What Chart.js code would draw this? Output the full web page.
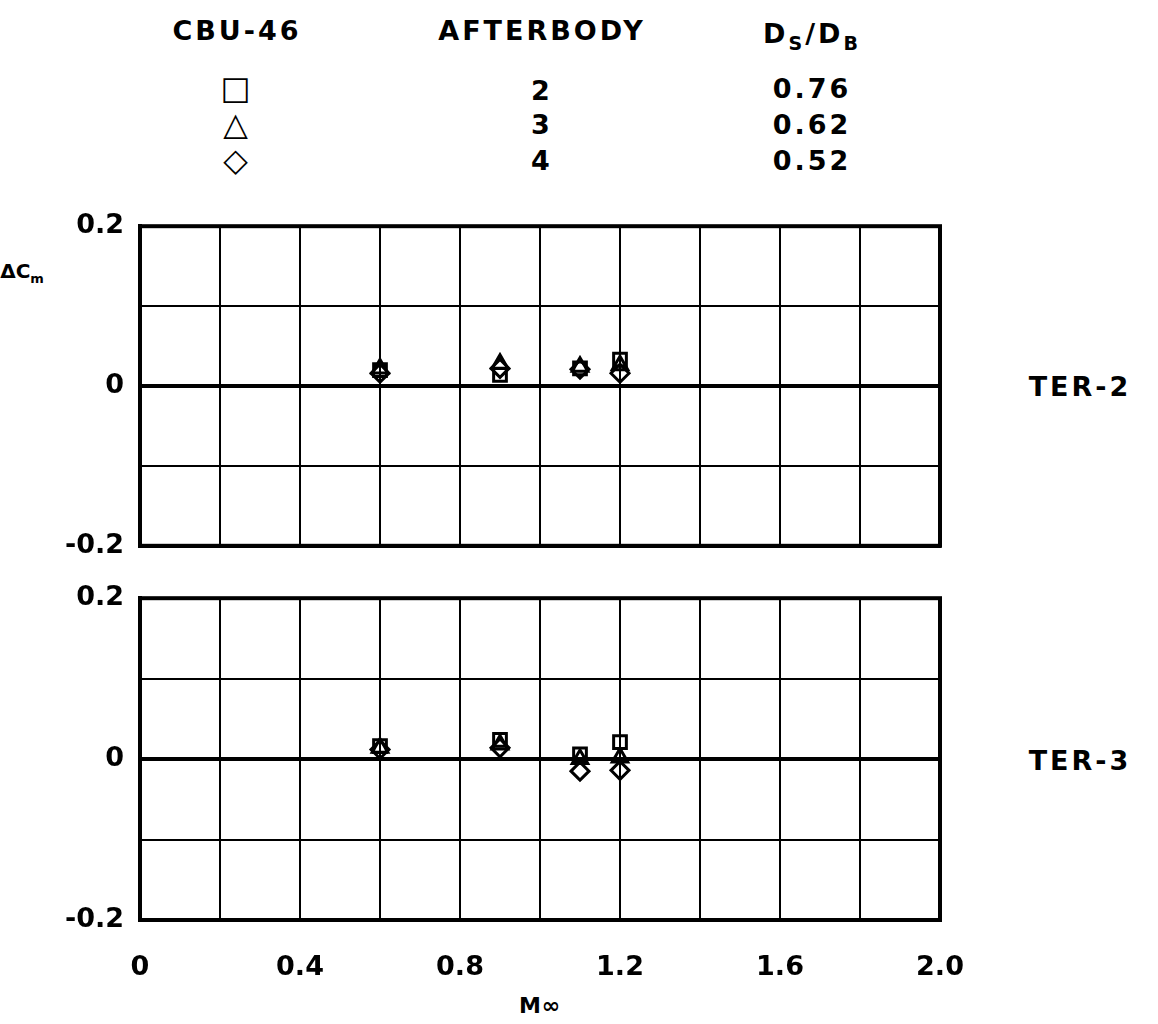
<!DOCTYPE html>
<html>
<head>
<meta charset="utf-8">
<script src="https://cdn.jsdelivr.net/npm/chart.js@4.4.1/dist/chart.umd.min.js"></script>
<style>
  body { margin: 0; background: #fff; width: 1158px; height: 1024px; position: relative; overflow: hidden;
         font-family: "DejaVu Sans", sans-serif; font-weight: bold; color: #000; }
  .t { position: absolute; font-size: 27px; letter-spacing: 3px; white-space: nowrap; transform: translate(-50%, -50%); }
  .box { position: absolute; left: 0; width: 1000px; }
</style>
</head>
<body>
<div class="t" style="left:237px;top:30px">CBU-46</div>
<div class="t" style="left:542px;top:30px">AFTERBODY</div>
<div class="t" style="left:812px;top:36px">D<sub style="font-size:19px">S</sub>/D<sub style="font-size:19px">B</sub></div>

<div class="t" style="left:237px;top:88px;font-size:32px">□</div>
<div class="t" style="left:237px;top:124px;font-size:32px">△</div>
<div class="t" style="left:237px;top:160px;font-size:32px">◇</div>
<div class="t" style="left:542px;top:90px">2</div>
<div class="t" style="left:542px;top:124px">3</div>
<div class="t" style="left:542px;top:160px">4</div>
<div class="t" style="left:812px;top:88px">0.76</div>
<div class="t" style="left:812px;top:124px">0.62</div>
<div class="t" style="left:812px;top:160px">0.52</div>

<div class="t" style="left:22px;top:272px;font-size:20px;letter-spacing:0">ΔC<sub style="font-size:13px">m</sub></div>
<div class="t" style="left:1080px;top:386px">TER-2</div>
<div class="t" style="left:1080px;top:760px">TER-3</div>
<div class="t" style="left:540px;top:1005px;font-size:22px;letter-spacing:1px">M∞</div>

<div class="box" style="top:194px;height:384px"><canvas id="c1"></canvas></div>
<div class="box" style="top:566px;height:424px"><canvas id="c2"></canvas></div>

<script>
var mach = [0.6, 0.9, 1.1, 1.2];
var afterbodies = ['2', '3', '4'];
var ratios = ['0.76', '0.62', '0.52'];

// TER-2
var ter2_ab2 = [0.020, 0.014, 0.022, 0.033];
var ter2_ab3 = [0.022, 0.028, 0.024, 0.026];
var ter2_ab4 = [0.016, 0.022, 0.021, 0.016];

// TER-3
var ter3_ab2 = [0.016, 0.024, 0.006, 0.021];
var ter3_ab3 = [0.014, 0.018, 0.000, 0.002];
var ter3_ab4 = [0.012, 0.014, -0.015, -0.014];

var xTicks = [0, 0.4, 0.8, 1.2, 1.6, 2.0];
var yTicks = [-0.2, 0, 0.2];

function pts(ys) {
  return mach.map(function (m, i) { return { x: m, y: ys[i] }; });
}

function ds(ys, style) {
  return {
    data: pts(ys),
    pointStyle: style,
    pointRadius: 9,
    pointBorderWidth: 3,
    borderColor: '#000',
    backgroundColor: 'rgba(0,0,0,0)',
    showLine: false
  };
}

var font = { family: 'DejaVu Sans', size: 27, weight: 'bold' };

function makeChart(id, a, b, c, showX) {
  return new Chart(document.getElementById(id), {
    type: 'scatter',
    data: { datasets: [ds(a, 'rect'), ds(b, 'triangle'), ds(c, 'rectRot')] },
    options: {
      responsive: true,
      maintainAspectRatio: false,
      animation: false,
      layout: { padding: { top: showX ? 18 : 14, right: 60, bottom: showX ? 0 : 10, left: 0 } },
      plugins: { legend: { display: false }, tooltip: { enabled: false } },
      scales: {
        x: {
          type: 'linear', min: 0, max: 2.0,
          ticks: {
            display: showX, stepSize: 0.2, color: '#000', font: font, padding: 32, maxRotation: 0,
            autoSkip: false,
            callback: function (v) {
              var k = Math.round(v * 10);
              if (k % 4 !== 0) return '';
              var s = (k / 10).toFixed(1);
              return s === '0.0' ? '0' : s;
            }
          },
          grid: { color: '#000', lineWidth: 2, drawTicks: false },
          border: { color: '#000', width: 4 },
          afterFit: function (s) { s.height = showX ? 70 : 0; }
        },
        y: {
          min: -0.2, max: 0.2,
          ticks: {
            stepSize: 0.1, color: '#000', font: font, padding: 16,
            callback: function (v) {
              var k = Math.round(v * 10);
              if (k === 0) return '0';
              if (Math.abs(k) === 2) return (k / 10).toFixed(1);
              return '';
            }
          },
          grid: {
            color: '#000', drawTicks: false,
            lineWidth: function (ctx) { return ctx.tick && Math.round(ctx.tick.value * 10) === 0 ? 4 : 2; }
          },
          border: { color: '#000', width: 4 },
          afterFit: function (s) { s.width = 140; }
        }
      }
    },
    plugins: [{
      id: 'frame',
      afterDraw: function (ch) {
        var a = ch.chartArea, g = ch.ctx;
        g.save();
        g.strokeStyle = '#000';
        g.lineWidth = 4;
        g.strokeRect(a.left, a.top, a.right - a.left, a.bottom - a.top);
        g.restore();
      }
    }]
  });
}

makeChart('c1', ter2_ab2, ter2_ab3, ter2_ab4, false);
makeChart('c2', ter3_ab2, ter3_ab3, ter3_ab4, true);
</script>
</body>
</html>
